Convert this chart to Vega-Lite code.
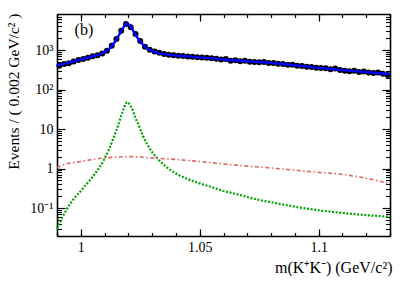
{
  "$schema": "https://vega.github.io/schema/vega-lite/v6.json",
  "width": 333,
  "height": 222,
  "autosize": "none",
  "padding": {"left": 57, "top": 14, "right": 21, "bottom": 45},
  "background": "white",
  "config": {
    "view": {"stroke": null},
    "axis": {"labelFont": "Liberation Serif", "titleFont": "Liberation Serif", "labelColor": "black", "titleColor": "black", "tickColor": "black", "domainColor": "black", "grid": false}
  },
  "datasets": {
    "bins": [
      {"m": 0.991, "n": 400}, {"m": 0.993, "n": 445}, {"m": 0.995, "n": 465}, {"m": 0.997, "n": 510},
      {"m": 0.999, "n": 555}, {"m": 1.001, "n": 595}, {"m": 1.003, "n": 635}, {"m": 1.005, "n": 695},
      {"m": 1.007, "n": 735}, {"m": 1.009, "n": 815}, {"m": 1.011, "n": 960}, {"m": 1.013, "n": 1290},
      {"m": 1.015, "n": 1900}, {"m": 1.017, "n": 3080}, {"m": 1.019, "n": 4550}, {"m": 1.021, "n": 3760},
      {"m": 1.023, "n": 2540}, {"m": 1.025, "n": 1690}, {"m": 1.027, "n": 1210}, {"m": 1.029, "n": 1020},
      {"m": 1.031, "n": 920}, {"m": 1.033, "n": 850}, {"m": 1.035, "n": 795}, {"m": 1.037, "n": 755},
      {"m": 1.039, "n": 735}, {"m": 1.041, "n": 715}, {"m": 1.043, "n": 705}, {"m": 1.045, "n": 685},
      {"m": 1.047, "n": 675}, {"m": 1.049, "n": 655}, {"m": 1.051, "n": 645}, {"m": 1.053, "n": 635},
      {"m": 1.055, "n": 615}, {"m": 1.057, "n": 600}, {"m": 1.059, "n": 572}, {"m": 1.061, "n": 590},
      {"m": 1.063, "n": 538}, {"m": 1.065, "n": 552}, {"m": 1.067, "n": 518}, {"m": 1.069, "n": 533},
      {"m": 1.071, "n": 503}, {"m": 1.073, "n": 500}, {"m": 1.075, "n": 488}, {"m": 1.077, "n": 497},
      {"m": 1.079, "n": 468}, {"m": 1.081, "n": 466}, {"m": 1.083, "n": 448}, {"m": 1.085, "n": 441},
      {"m": 1.087, "n": 423}, {"m": 1.089, "n": 421}, {"m": 1.091, "n": 402}, {"m": 1.093, "n": 396},
      {"m": 1.095, "n": 378}, {"m": 1.097, "n": 372}, {"m": 1.099, "n": 358}, {"m": 1.101, "n": 351},
      {"m": 1.103, "n": 346}, {"m": 1.105, "n": 328}, {"m": 1.107, "n": 341}, {"m": 1.109, "n": 314},
      {"m": 1.111, "n": 299}, {"m": 1.113, "n": 291}, {"m": 1.115, "n": 297}, {"m": 1.117, "n": 279},
      {"m": 1.119, "n": 286}, {"m": 1.121, "n": 269}, {"m": 1.123, "n": 261}, {"m": 1.125, "n": 271},
      {"m": 1.127, "n": 249}, {"m": 1.129, "n": 234}
    ],
    "fit": [
      {"m": 0.990, "y": 405}, {"m": 0.995, "y": 480}, {"m": 1.000, "y": 575}, {"m": 1.005, "y": 690},
      {"m": 1.010, "y": 880}, {"m": 1.012, "y": 1080}, {"m": 1.013, "y": 1260}, {"m": 1.014, "y": 1500},
      {"m": 1.015, "y": 1850}, {"m": 1.016, "y": 2350}, {"m": 1.017, "y": 3000}, {"m": 1.018, "y": 3800},
      {"m": 1.019, "y": 4500}, {"m": 1.0195, "y": 4700}, {"m": 1.020, "y": 4550}, {"m": 1.021, "y": 3900},
      {"m": 1.022, "y": 3100}, {"m": 1.023, "y": 2450}, {"m": 1.024, "y": 1980}, {"m": 1.025, "y": 1650},
      {"m": 1.026, "y": 1400}, {"m": 1.027, "y": 1230}, {"m": 1.028, "y": 1100}, {"m": 1.030, "y": 950},
      {"m": 1.032, "y": 860}, {"m": 1.035, "y": 790}, {"m": 1.040, "y": 725}, {"m": 1.045, "y": 690},
      {"m": 1.050, "y": 650}, {"m": 1.055, "y": 615}, {"m": 1.060, "y": 575}, {"m": 1.065, "y": 545},
      {"m": 1.070, "y": 520}, {"m": 1.075, "y": 498}, {"m": 1.080, "y": 472}, {"m": 1.085, "y": 443},
      {"m": 1.090, "y": 413}, {"m": 1.095, "y": 383}, {"m": 1.100, "y": 352}, {"m": 1.105, "y": 332},
      {"m": 1.110, "y": 310}, {"m": 1.115, "y": 292}, {"m": 1.120, "y": 275}, {"m": 1.125, "y": 260},
      {"m": 1.130, "y": 245}
    ],
    "sig": [
      {"m": 0.990, "y": 0.03}, {"m": 0.992, "y": 0.055}, {"m": 0.994, "y": 0.09}, {"m": 0.996, "y": 0.14},
      {"m": 0.998, "y": 0.2}, {"m": 1.000, "y": 0.27}, {"m": 1.002, "y": 0.38}, {"m": 1.004, "y": 0.52},
      {"m": 1.006, "y": 0.75}, {"m": 1.008, "y": 1.1}, {"m": 1.010, "y": 1.8}, {"m": 1.012, "y": 3.2},
      {"m": 1.014, "y": 6.5}, {"m": 1.016, "y": 14}, {"m": 1.017, "y": 22}, {"m": 1.018, "y": 32},
      {"m": 1.019, "y": 44}, {"m": 1.0195, "y": 48}, {"m": 1.020, "y": 46}, {"m": 1.021, "y": 38},
      {"m": 1.022, "y": 28}, {"m": 1.023, "y": 19}, {"m": 1.024, "y": 14}, {"m": 1.026, "y": 7},
      {"m": 1.028, "y": 4}, {"m": 1.030, "y": 2.6}, {"m": 1.033, "y": 1.6}, {"m": 1.036, "y": 1.1},
      {"m": 1.040, "y": 0.75}, {"m": 1.045, "y": 0.54}, {"m": 1.050, "y": 0.42}, {"m": 1.055, "y": 0.34},
      {"m": 1.060, "y": 0.27}, {"m": 1.065, "y": 0.23}, {"m": 1.070, "y": 0.19}, {"m": 1.075, "y": 0.16},
      {"m": 1.080, "y": 0.14}, {"m": 1.085, "y": 0.123}, {"m": 1.090, "y": 0.108}, {"m": 1.095, "y": 0.097},
      {"m": 1.100, "y": 0.088}, {"m": 1.105, "y": 0.081}, {"m": 1.110, "y": 0.075}, {"m": 1.115, "y": 0.07},
      {"m": 1.120, "y": 0.066}, {"m": 1.125, "y": 0.063}, {"m": 1.130, "y": 0.06}
    ],
    "bkg": [
      {"m": 0.990, "y": 1.05}, {"m": 0.992, "y": 1.2}, {"m": 0.995, "y": 1.35}, {"m": 1.000, "y": 1.5},
      {"m": 1.005, "y": 1.7}, {"m": 1.010, "y": 1.85}, {"m": 1.015, "y": 1.95}, {"m": 1.020, "y": 2.0},
      {"m": 1.025, "y": 1.95}, {"m": 1.030, "y": 1.85}, {"m": 1.035, "y": 1.77}, {"m": 1.040, "y": 1.7},
      {"m": 1.045, "y": 1.6}, {"m": 1.050, "y": 1.5}, {"m": 1.055, "y": 1.4}, {"m": 1.060, "y": 1.3},
      {"m": 1.065, "y": 1.22}, {"m": 1.070, "y": 1.15}, {"m": 1.075, "y": 1.09}, {"m": 1.080, "y": 1.03},
      {"m": 1.085, "y": 0.97}, {"m": 1.090, "y": 0.91}, {"m": 1.095, "y": 0.85}, {"m": 1.100, "y": 0.8},
      {"m": 1.105, "y": 0.76}, {"m": 1.110, "y": 0.71}, {"m": 1.115, "y": 0.64}, {"m": 1.120, "y": 0.57},
      {"m": 1.125, "y": 0.49}, {"m": 1.130, "y": 0.41}
    ],
    "label": [{"m": 1.0013, "y": 3200, "t": "(b)"}]
  },
  "layer": [
    {
      "data": {"name": "bins"},
      "mark": {"type": "point", "filled": true, "shape": "circle", "size": 36, "color": "black", "opacity": 1},
      "encoding": {
        "x": {"field": "m", "type": "quantitative",
          "scale": {"domain": [0.99, 1.13], "nice": false, "zero": false},
          "axis": {"orient": "bottom", "values": [1.0, 1.05, 1.1], "labelExpr": "datum.value == 1 ? '1' : format(datum.value, '.2~f')",
            "tickSize": -7, "tickWidth": 1.2, "domainWidth": 1.6, "labelFontSize": 14, "labelPadding": 11,
            "title": "m(K⁺K⁻) (GeV/c²)", "titleFontSize": 16, "titleFontWeight": "normal", "titleAnchor": "end", "titleAlign": "right",
            "titleX": 335, "titleY": 31, "titleBaseline": "middle"}},
        "y": {"field": "n", "type": "quantitative",
          "scale": {"type": "log", "domain": [0.0196, 8160], "nice": false},
          "axis": {"orient": "left", "values": [0.1, 1, 10, 100, 1000],
            "labelExpr": "datum.value >= 999 ? '10³' : datum.value >= 99 ? '10²' : datum.value >= 9 ? '10' : datum.value >= 0.9 ? '1' : '10⁻¹'",
            "tickSize": -8, "tickWidth": 1.2, "domainWidth": 1.6, "labelFontSize": 14, "labelPadding": 12,
            "title": "Events / ( 0.002 GeV/c² )", "titleFontSize": 15.5, "titleFontWeight": "normal", "titleAnchor": "end",
            "titleAngle": -90, "titleAlign": "right", "titleBaseline": "middle", "titleX": -44, "titleY": -1}}
      }
    },
    {
      "data": {"name": "fit"},
      "mark": {"type": "line", "color": "#0000ff", "strokeWidth": 2.4, "interpolate": "monotone"},
      "encoding": {
        "x": {"field": "m", "type": "quantitative", "scale": {"domain": [0.99, 1.13], "nice": false, "zero": false},
          "axis": {"orient": "bottom", "values": [0.99, 1.0, 1.01, 1.02, 1.03, 1.04, 1.05, 1.06, 1.07, 1.08, 1.09, 1.1, 1.11, 1.12, 1.13],
            "labels": false, "domain": false, "tickSize": -3.5, "tickWidth": 1.2, "title": null}},
        "y": {"field": "y", "type": "quantitative", "scale": {"type": "log", "domain": [0.0196, 8160], "nice": false},
          "axis": {"orient": "left", "values": [0.02, 0.03, 0.04, 0.05, 0.06, 0.07, 0.08, 0.09, 0.2, 0.3, 0.4, 0.5, 0.6, 0.7, 0.8, 0.9, 2, 3, 4, 5, 6, 7, 8, 9, 20, 30, 40, 50, 60, 70, 80, 90, 200, 300, 400, 500, 600, 700, 800, 900, 2000, 3000, 4000, 5000, 6000, 7000, 8000],
            "labels": false, "domain": false, "tickSize": -4.5, "tickWidth": 1.1, "title": null}}
      }
    },
    {
      "data": {"name": "sig"},
      "mark": {"type": "line", "color": "#00a000", "strokeWidth": 2.2, "strokeDash": [2, 1.6], "interpolate": "monotone"},
      "encoding": {
        "x": {"field": "m", "type": "quantitative", "scale": {"domain": [0.99, 1.13], "nice": false, "zero": false},
          "axis": {"orient": "top", "values": [1.0, 1.05, 1.1], "labels": false, "domainWidth": 1.6, "tickSize": -7, "tickWidth": 1.2, "title": null}},
        "y": {"field": "y", "type": "quantitative", "scale": {"type": "log", "domain": [0.0196, 8160], "nice": false},
          "axis": {"orient": "right", "values": [0.1, 1, 10, 100, 1000], "labels": false, "domainWidth": 1.6, "tickSize": -8, "tickWidth": 1.2, "title": null}}
      }
    },
    {
      "data": {"name": "bkg"},
      "mark": {"type": "line", "color": "#e06666", "strokeWidth": 1.6, "strokeDash": [4, 2.5, 1.5, 2.5], "interpolate": "monotone"},
      "encoding": {
        "x": {"field": "m", "type": "quantitative", "scale": {"domain": [0.99, 1.13], "nice": false, "zero": false},
          "axis": {"orient": "top", "values": [0.99, 1.0, 1.01, 1.02, 1.03, 1.04, 1.05, 1.06, 1.07, 1.08, 1.09, 1.1, 1.11, 1.12, 1.13],
            "labels": false, "domain": false, "tickSize": -3.5, "tickWidth": 1.2, "title": null}},
        "y": {"field": "y", "type": "quantitative", "scale": {"type": "log", "domain": [0.0196, 8160], "nice": false},
          "axis": {"orient": "right", "values": [0.02, 0.03, 0.04, 0.05, 0.06, 0.07, 0.08, 0.09, 0.2, 0.3, 0.4, 0.5, 0.6, 0.7, 0.8, 0.9, 2, 3, 4, 5, 6, 7, 8, 9, 20, 30, 40, 50, 60, 70, 80, 90, 200, 300, 400, 500, 600, 700, 800, 900, 2000, 3000, 4000, 5000, 6000, 7000, 8000],
            "labels": false, "domain": false, "tickSize": -4.5, "tickWidth": 1.1, "title": null}}
      }
    },
    {
      "data": {"name": "label"},
      "mark": {"type": "text", "font": "Liberation Serif", "fontSize": 16, "color": "black", "align": "center", "baseline": "middle"},
      "encoding": {
        "x": {"field": "m", "type": "quantitative", "scale": {"domain": [0.99, 1.13], "nice": false, "zero": false}, "axis": null},
        "y": {"field": "y", "type": "quantitative", "scale": {"type": "log", "domain": [0.0196, 8160], "nice": false}, "axis": null},
        "text": {"field": "t"}
      }
    }
  ],
  "resolve": {"axis": {"x": "independent", "y": "independent"}}
}
